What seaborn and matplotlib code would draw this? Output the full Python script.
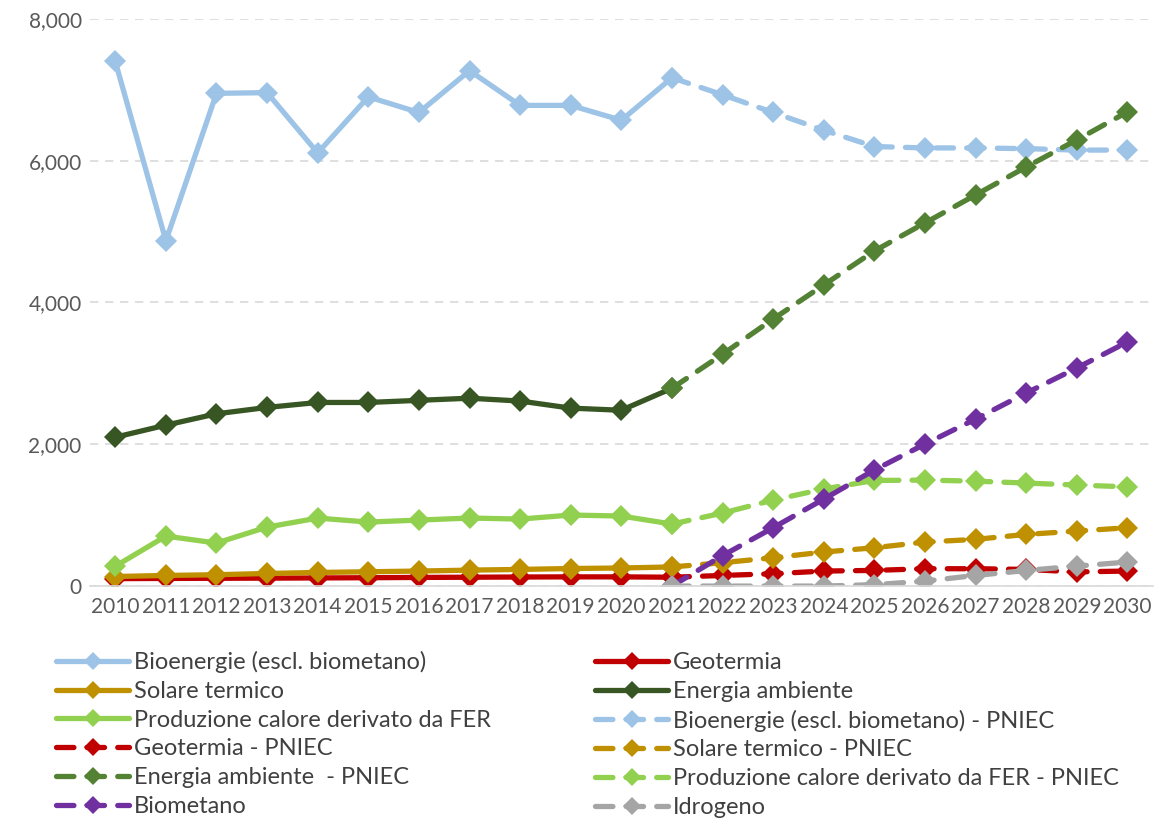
import numpy as np
import pandas as pd
import seaborn as sns
import matplotlib.pyplot as plt
from matplotlib.ticker import FuncFormatter

sns.set_theme(style="white")
plt.rcParams['font.family'] = ['Lato', 'DejaVu Sans']

# data
years_hist = list(range(2010, 2022))
years_pniec = list(range(2021, 2031))

bio_hist = [7400, 4870, 6950, 6960, 6110, 6900, 6680, 7270, 6780, 6780, 6570, 7170]
geo_hist = [105, 108, 110, 112, 115, 118, 122, 125, 128, 130, 130, 125]
sol_hist = [135, 150, 160, 178, 192, 202, 212, 225, 235, 248, 255, 270]
amb_hist = [2100, 2270, 2430, 2520, 2590, 2590, 2620, 2650, 2610, 2510, 2480, 2790]
fer_hist = [280, 705, 607, 832, 959, 903, 931, 960, 945, 1002, 988, 875]

bio_pniec = [7170, 6930, 6680, 6430, 6200, 6180, 6180, 6170, 6150, 6150]
geo_pniec = [125, 150, 174, 212, 221, 245, 245, 235, 200, 212]
sol_pniec = [270, 330, 400, 480, 541, 621, 659, 729, 776, 823]
amb_pniec = [2790, 3270, 3767, 4247, 4727, 5122, 5517, 5912, 6293, 6688]
fer_pniec = [875, 1030, 1213, 1369, 1490, 1495, 1480, 1453, 1425, 1400]
biomet = [0, 430, 823, 1227, 1637, 2003, 2356, 2723, 3076, 3443]
idro = [0, 0, 0, 0, 20, 70, 150, 220, 282, 339]

series = [
    ("Bioenergie (escl. biometano)", years_hist, bio_hist, "#9DC3E6", False),
    ("Geotermia", years_hist, geo_hist, "#C00000", False),
    ("Solare termico", years_hist, sol_hist, "#BF9000", False),
    ("Energia ambiente", years_hist, amb_hist, "#375623", False),
    ("Produzione calore derivato da FER", years_hist, fer_hist, "#92D050", False),
    ("Bioenergie (escl. biometano) - PNIEC", years_pniec, bio_pniec, "#9DC3E6", True),
    ("Geotermia - PNIEC", years_pniec, geo_pniec, "#C00000", True),
    ("Solare termico - PNIEC", years_pniec, sol_pniec, "#BF9000", True),
    ("Energia ambiente  - PNIEC", years_pniec, amb_pniec, "#548235", True),
    ("Produzione calore derivato da FER - PNIEC", years_pniec, fer_pniec, "#92D050", True),
    ("Biometano", years_pniec, biomet, "#7030A0", True),
    ("Idrogeno", years_pniec, idro, "#A5A5A5", True),
]

fig = plt.figure(figsize=(11.64, 8.22), dpi=100)
ax = fig.add_axes([0.0773, 0.287, 0.913, 0.69])

handles = []
for name, xs, ys, col, dashed in series:
    df = pd.DataFrame({"anno": xs, "valore": ys})
    sns.lineplot(data=df, x="anno", y="valore", ax=ax, color=col, marker="D",
                 markersize=11.5, markeredgewidth=0, linewidth=3.8, label=name,
                 solid_capstyle="round", dash_capstyle="round")
    line = ax.get_lines()[-1]
    if dashed:
        line.set_dashes((3.3, 2.5))
    handles.append(line)

ax.set_xlim(2009.5, 2030.5)
ax.set_ylim(0, 8000)
ax.set_yticks([0, 2000, 4000, 6000, 8000])
ax.set_xticks(list(range(2010, 2031)))
ax.yaxis.set_major_formatter(FuncFormatter(lambda v, p: f"{int(v):,}"))
ax.tick_params(axis="both", labelsize=15, colors="#595959", length=0)
ax.tick_params(axis="x", pad=8)
ax.tick_params(axis="y", pad=6)
ax.set_xlabel("")
ax.set_ylabel("")
ax.grid(axis="y", color="#D9D9D9", linestyle=(0, (5, 4)), linewidth=1.2)
ax.set_axisbelow(True)
for s in ["top", "right", "left"]:
    ax.spines[s].set_visible(False)
ax.spines["bottom"].set_color("#D9D9D9")
ax.spines["bottom"].set_linewidth(1.2)

ax.get_legend().remove()
order = list(range(0, 12, 2)) + list(range(1, 12, 2))
leg = fig.legend([handles[i] for i in order], [series[i][0] for i in order],
                 loc="upper left", bbox_to_anchor=(0.03, 0.234), ncol=2,
                 frameon=False, fontsize=17, handlelength=3.1, markerscale=0.8,
                 handletextpad=0.2, columnspacing=4.4, labelspacing=0.33)
for t in leg.get_texts():
    t.set_color("#404040")

fig.savefig("out.png", dpi=100)
